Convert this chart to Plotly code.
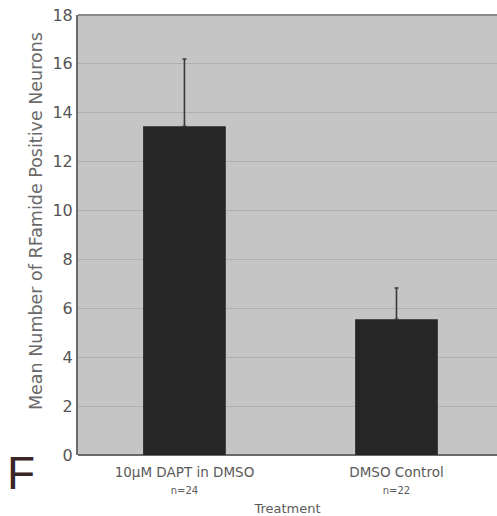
import plotly.graph_objects as go

categories = ["10μM DAPT in DMSO", "DMSO Control"]
n_labels = ["n=24", "n=22"]
means = [13.45, 5.55]
err_plus = [2.75, 1.28]
y_ticks = [0, 2, 4, 6, 8, 10, 12, 14, 16, 18]

x_pos = list(range(len(categories)))
tick_text = [f"{c}<br><span style='font-size:10px'>{n}</span>" for c, n in zip(categories, n_labels)]

fig = go.Figure()
fig.add_trace(go.Bar(
    x=x_pos, y=means, width=0.39,
    marker=dict(color="#262626", line=dict(width=0)),
    error_y=dict(type="data", symmetric=False, array=err_plus,
                 arrayminus=[0] * len(means), color="#3a3a3a",
                 thickness=1.6, width=2),
))

fig.update_layout(
    width=497, height=516,
    margin=dict(l=78, r=0, t=15, b=61),
    paper_bgcolor="white",
    plot_bgcolor="#c5c5c5",
    showlegend=False,
    font=dict(family="DejaVu Sans", color="#555555"),
    xaxis=dict(
        range=[-0.502, 1.474], tickvals=x_pos, ticktext=tick_text,
        tickfont=dict(size=13.5, color="#5a5a5a"), showgrid=False,
        showline=False, zeroline=False, ticks="", ticklabelstandoff=7,
        title=dict(text="Treatment", font=dict(size=13, color="#5a5a5a"), standoff=8),
    ),
    yaxis=dict(
        range=[0, 18], tickvals=y_ticks, tickfont=dict(size=16, color="#555555"),
        showgrid=True, gridcolor="#afafaf", gridwidth=1,
        showline=True, linecolor="#6a6a6a", linewidth=2, mirror=False,
        zeroline=True, zerolinecolor="#6a6a6a", zerolinewidth=2,
        ticks="", ticklen=0,
    ),
)

fig.add_shape(type="line", xref="paper", yref="paper", x0=0, x1=1, y0=1, y1=1,
              line=dict(color="#8a8a8a", width=2))

fig.add_annotation(text="Mean Number of RFamide Positive Neurons",
                   xref="paper", yref="paper", x=-0.1, y=0.532, textangle=-90,
                   xanchor="center", yanchor="middle", showarrow=False,
                   font=dict(size=17.5, color="#6a6a6a", family="DejaVu Sans"))

fig.add_annotation(text="F", xref="paper", yref="paper", x=-0.175, y=0.023,
                   xanchor="left", yanchor="top", showarrow=False,
                   font=dict(size=46, color="#3a2626", family="Liberation Sans"))

fig.write_html("out.html", config={"displayModeBar": False},
               post_script="document.body.style.margin='0';")
